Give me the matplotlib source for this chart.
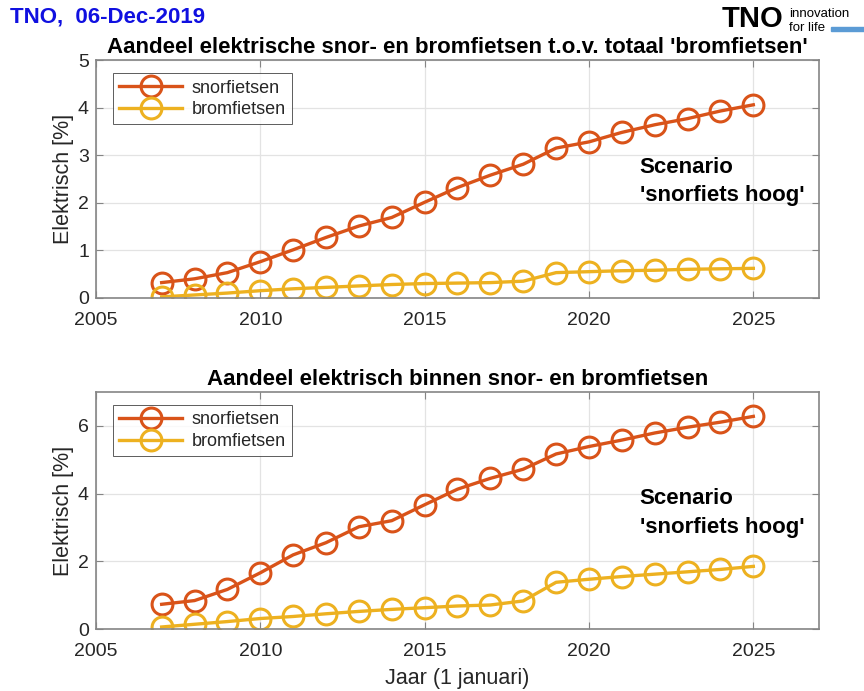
import numpy as np
import matplotlib.pyplot as plt

plt.rcParams['font.family'] = ['Liberation Sans', 'DejaVu Sans']

# Jaren en aandelen elektrisch [%]
jaren = list(range(2007, 2026))

# Aandeel t.o.v. totaal 'bromfietsen'
snor_totaal = [0.32, 0.40, 0.53, 0.76, 1.01, 1.27, 1.51, 1.69, 2.01, 2.32, 2.58,
               2.81, 3.15, 3.28, 3.48, 3.64, 3.77, 3.93, 4.06]
brom_totaal = [0.02, 0.06, 0.10, 0.15, 0.19, 0.22, 0.25, 0.28, 0.30, 0.31, 0.32,
               0.35, 0.53, 0.55, 0.57, 0.58, 0.60, 0.61, 0.62]

# Aandeel binnen snor- en bromfietsen
snor_binnen = [0.73, 0.84, 1.17, 1.66, 2.19, 2.55, 3.02, 3.20, 3.67, 4.13, 4.45,
               4.72, 5.17, 5.39, 5.58, 5.79, 5.96, 6.11, 6.28]
brom_binnen = [0.06, 0.14, 0.22, 0.31, 0.37, 0.45, 0.52, 0.58, 0.63, 0.68, 0.71,
               0.83, 1.38, 1.47, 1.55, 1.62, 1.69, 1.76, 1.85]

kleur_snor = '#D95319'
kleur_brom = '#EDB120'
tekst_grijs = '#262626'

fig = plt.figure(figsize=(8.64, 6.91), dpi=100)
ax1 = fig.add_axes([0.111, 0.569, 0.837, 0.344])
ax2 = fig.add_axes([0.111, 0.0897, 0.837, 0.343])


def teken(ax, snor, brom, titel, ymax, yticks):
    stijl = dict(lw=2.4, marker='o', ms=15, mfc='none', mew=2.2)
    ax.plot(jaren, snor, color=kleur_snor, label='snorfietsen', **stijl)
    ax.plot(jaren, brom, color=kleur_brom, label='bromfietsen', **stijl)
    ax.set_xlim(2005, 2027)
    ax.set_ylim(0, ymax)
    ax.set_xticks([2005, 2010, 2015, 2020, 2025])
    ax.set_yticks(yticks)
    ax.grid(True, color='#E3E3E3', lw=0.9)
    ax.set_axisbelow(True)
    for s in ax.spines.values():
        s.set_color('#858585')
        s.set_linewidth(1.2)
    ax.tick_params(labelsize=14, colors=tekst_grijs, length=5, direction='in',
                   top=True, right=True)
    ax.tick_params(axis='both', color='#858585')
    ax.tick_params(axis='x', pad=10)
    ax.tick_params(axis='y', pad=5)
    ax.set_ylabel('Elektrisch [%]', fontsize=15.5, color=tekst_grijs, labelpad=3)
    ax.set_title(titel, fontsize=16, fontweight='bold', pad=5)
    leg = ax.legend(loc='upper left', fontsize=13, frameon=True, fancybox=False,
                    edgecolor='#333333', borderpad=0.35, handlelength=3.5,
                    handletextpad=0.5, labelspacing=0.25, borderaxespad=0,
                    bbox_to_anchor=(0.0235, 0.945))
    leg.get_frame().set_linewidth(0.7)
    for t in leg.get_texts():
        t.set_color(tekst_grijs)
    ax.text(0.752, 0.55, 'Scenario', transform=ax.transAxes, fontsize=16,
            fontweight='bold', va='center', ha='left')
    ax.text(0.752, 0.43, "'snorfiets hoog'", transform=ax.transAxes,
            fontsize=16, fontweight='bold', va='center', ha='left')


teken(ax1, snor_totaal, brom_totaal,
      "Aandeel elektrische snor- en bromfietsen t.o.v. totaal 'bromfietsen'",
      5, [0, 1, 2, 3, 4, 5])
teken(ax2, snor_binnen, brom_binnen,
      'Aandeel elektrisch binnen snor- en bromfietsen', 7, [0, 2, 4, 6])
ax2.set_xlabel('Jaar (1 januari)', fontsize=15.5, color=tekst_grijs, labelpad=6)

# koptekst
fig.text(0.012, 0.975, 'TNO,  06-Dec-2019', color='#1010E0', fontsize=16,
         fontweight='bold', va='center', ha='left')
# logo
fig.text(0.907, 0.972, 'TNO', fontsize=21, fontweight='heavy', va='center',
         ha='right', color='black')
fig.text(0.913, 0.980, 'innovation', fontsize=9.5, va='center', ha='left')
fig.text(0.913, 0.960, 'for life', fontsize=9.5, va='center', ha='left')
fig.add_artist(plt.Rectangle((0.962, 0.955), 0.038, 0.006,
                             transform=fig.transFigure, color='#5B9BD5'))

fig.savefig('out.png', dpi=100)
